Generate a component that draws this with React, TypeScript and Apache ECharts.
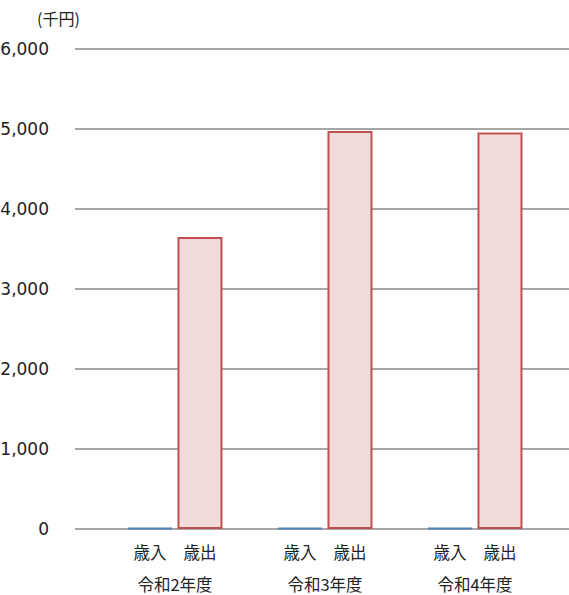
import React, { useEffect, useRef } from "react";
import * as echarts from "echarts";

const years = ["令和2年度", "令和3年度", "令和4年度"];
const subLabels = ["歳入", "歳出"];
const revenue = [12, 15, 14];
const expenditure = [3650, 4975, 4955];
const yTicks = { min: 0, max: 6000, interval: 1000 };
const unitLabel = "(千円)";

const CJK = "'Noto Sans CJK JP', 'Noto Sans', sans-serif";
const NUM = "'DejaVu Sans', 'Noto Sans CJK JP', sans-serif";

export default function App() {
  const ref = useRef<HTMLDivElement>(null);
  useEffect(() => {
    if (!ref.current) return;
    const chart = echarts.init(ref.current, undefined, { renderer: "svg" });
    const txt = { fontSize: 16.5, fontFamily: CJK, color: "#222" };
    chart.setOption({
      animation: false,
      backgroundColor: "#ffffff",
      grid: [
        { left: 75, right: 0, top: 49, height: 480, outerBoundsMode: "none" },
        { left: 100, width: 450, top: 49, height: 480, outerBoundsMode: "none" },
      ],
      graphic: [
        {
          type: "text",
          left: 37,
          top: 10,
          style: { text: unitLabel, font: `16px ${CJK}`, fill: "#222" },
        },
      ],
      xAxis: [
        {
          gridIndex: 0,
          type: "category",
          data: ["a"],
          show: false,
        },
        {
          gridIndex: 1,
          type: "category",
          data: years,
          axisLine: { show: false },
          axisTick: { show: false },
          axisLabel: {
            margin: 1,
            interval: 0,
            formatter: (v: string) =>
              `{a|${subLabels[0]}}{b|${subLabels[1]}}\n{c|${v}}`,
            rich: {
              a: { width: 50, align: "center", lineHeight: 44, ...txt },
              b: { width: 50, align: "center", lineHeight: 44, ...txt },
              c: { width: 100, align: "center", lineHeight: 20, ...txt },
            },
          },
        },
      ],
      yAxis: [
        {
          gridIndex: 0,
          type: "value",
          ...yTicks,
          axisLine: { show: false },
          axisTick: { show: false },
          splitLine: { show: true, lineStyle: { color: "#888888", width: 1.5 } },
          axisLabel: {
            margin: 26,
            fontSize: 17,
            fontFamily: NUM,
            color: "#222",
            formatter: (v: number) => v.toLocaleString("en-US"),
          },
        },
        {
          gridIndex: 1,
          type: "value",
          ...yTicks,
          show: false,
          splitLine: { show: false },
        },
      ],
      series: [
        {
          name: subLabels[0],
          type: "bar",
          xAxisIndex: 1,
          yAxisIndex: 1,
          data: revenue,
          barWidth: 45,
          barGap: "11%",
          itemStyle: { color: "#DCE6F2", borderColor: "#4F81BD", borderWidth: 2 },
        },
        {
          name: subLabels[1],
          type: "bar",
          xAxisIndex: 1,
          yAxisIndex: 1,
          data: expenditure,
          barWidth: 45,
          barGap: "11%",
          itemStyle: { color: "#F2DCDB", borderColor: "#C0504D", borderWidth: 2 },
        },
      ],
    });
    return () => chart.dispose();
  }, []);
  return (
    <div
      ref={ref}
      style={{ position: "fixed", left: 0, top: 0, width: 569, height: 595 }}
    />
  );
}
